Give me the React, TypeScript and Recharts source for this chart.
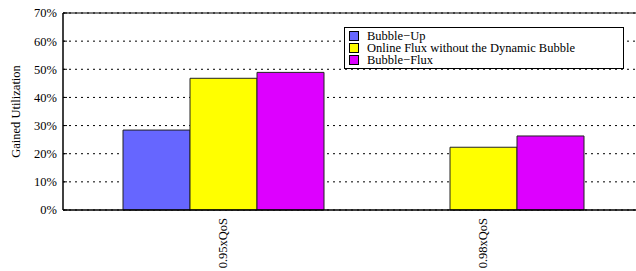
import { BarChart, Bar, XAxis, YAxis, CartesianGrid, Legend, ReferenceLine } from 'recharts';

const categories = ['0.95xQoS', '0.98xQoS'];
const bubbleUp = [28.4, null];
const fluxNoBubble = [46.8, 22.3];
const bubbleFlux = [48.9, 26.3];
const yTicks = [0, 10, 20, 30, 40, 50, 60, 70];

const seriesNames = ['Bubble\u2212Up', 'Online Flux without the Dynamic Bubble', 'Bubble\u2212Flux'];
const seriesColors = ['#6666ff', '#ffff00', '#dd00ff'];

const data = categories.map((c, i) => ({
  name: c,
  up: bubbleUp[i],
  noBubble: fluxNoBubble[i],
  flux: bubbleFlux[i],
}));

const font = '"Liberation Serif", "Times New Roman", serif';

function RotatedTick(props: any) {
  const { x, y, payload } = props;
  return (
    <text
      x={x}
      y={y}
      transform={`rotate(-90, ${x}, ${y})`}
      textAnchor="end"
      dominantBaseline="central"
      fontFamily={font}
      fontSize={12.5}
      fill="#000"
    >
      {payload.value}
    </text>
  );
}

function YLabel(props: any) {
  const { viewBox } = props;
  const cy = viewBox.y + viewBox.height / 2;
  return (
    <text
      x={16}
      y={cy}
      transform={`rotate(-90, 16, ${cy})`}
      textAnchor="middle"
      dominantBaseline="central"
      fontFamily={font}
      fontSize={12.5}
      fill="#000"
    >
      Gained Utilization
    </text>
  );
}

function LegendBox() {
  return (
    <div
      style={{
        border: '1px solid #000',
        background: '#fff',
        padding: '2px 4px',
        fontFamily: font,
        fontSize: 12.5,
        lineHeight: '12px',
        boxSizing: 'border-box',
        width: 280,
      }}
    >
      {seriesNames.map((n, i) => (
        <div key={n} style={{ display: 'flex', alignItems: 'center', height: 12 }}>
          <span
            style={{
              display: 'inline-block',
              width: 8,
              height: 8,
              border: '1px solid #000',
              background: seriesColors[i],
              marginRight: 8,
            }}
          />
          <span>{n}</span>
        </div>
      ))}
    </div>
  );
}

export default function App() {
  return (
    <div style={{ position: 'absolute', left: 0, top: 0 }}>
      <BarChart
        width={636}
        height={271}
        data={data}
        margin={{ top: 13, right: 0, left: 0, bottom: 0 }}
        barGap={0}
        barSize={67}
      >
        <CartesianGrid vertical={false} stroke="#000" strokeDasharray="2 4" />
        <XAxis
          dataKey="name"
          padding={{ left: 30, right: 23 }}
          height={61}
          tickLine={false}
          tickSize={0}
          tickMargin={8}
          tick={<RotatedTick />}
          axisLine={{ stroke: '#000', strokeWidth: 1.5 }}
          interval={0}
        />
        <YAxis
          width={63}
          domain={[0, 70]}
          ticks={yTicks}
          interval={0}
          tickFormatter={(v) => `${v}%`}
          tickSize={-4}
          tickMargin={10}
          tickLine={{ stroke: '#000' }}
          axisLine={{ stroke: '#000', strokeWidth: 1.5 }}
          tick={{ fill: '#000', fontFamily: font, fontSize: 12.5 }}
          label={<YLabel />}
        />
        {/* solid top border of the frame */}
        <ReferenceLine y={70} stroke="#000" strokeWidth={1.2} />
        <Legend
          layout="vertical"
          align="center"
          verticalAlign="middle"
          wrapperStyle={{ left: 344, top: 27, width: 280 }}
          content={() => <LegendBox />}
        />
        <Bar dataKey="up" name={seriesNames[0]} fill={seriesColors[0]} stroke="#222" strokeWidth={1} isAnimationActive={false} />
        <Bar dataKey="noBubble" name={seriesNames[1]} fill={seriesColors[1]} stroke="#222" strokeWidth={1} isAnimationActive={false} />
        <Bar dataKey="flux" name={seriesNames[2]} fill={seriesColors[2]} stroke="#222" strokeWidth={1} isAnimationActive={false} />
      </BarChart>
    </div>
  );
}
